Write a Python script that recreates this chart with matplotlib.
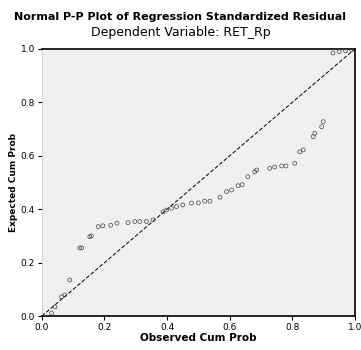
import matplotlib
matplotlib.use("Agg")
import matplotlib.pyplot as plt

# Observed vs expected cumulative probability
observed = [0.031, 0.042, 0.063, 0.073, 0.089, 0.121, 0.127, 0.153, 0.158, 0.180,
            0.195, 0.220, 0.240, 0.275, 0.297, 0.313, 0.334, 0.355, 0.387, 0.398,
            0.414, 0.430, 0.450, 0.478, 0.500, 0.520, 0.537, 0.569, 0.590, 0.606,
            0.627, 0.640, 0.658, 0.680, 0.686, 0.728, 0.744, 0.766, 0.780, 0.808,
            0.824, 0.835, 0.867, 0.872, 0.894, 0.899, 0.930, 0.950, 0.970, 0.990]
expected = [0.011, 0.034, 0.072, 0.079, 0.135, 0.255, 0.255, 0.297, 0.300, 0.335,
            0.338, 0.340, 0.348, 0.350, 0.354, 0.354, 0.354, 0.360, 0.390, 0.397,
            0.404, 0.410, 0.416, 0.423, 0.424, 0.430, 0.430, 0.445, 0.466, 0.472,
            0.488, 0.492, 0.522, 0.540, 0.547, 0.553, 0.558, 0.562, 0.562, 0.572,
            0.615, 0.622, 0.672, 0.684, 0.709, 0.728, 0.985, 0.990, 0.993, 0.997]

ticks = [0.0, 0.2, 0.4, 0.6, 0.8, 1.0]
tick_labels = ["0.0", "0.2", "0.4", "0.6", "0.8", "1.0"]

fig = plt.figure(figsize=(3.61, 3.5), dpi=100)
fig.patch.set_facecolor("white")
ax = fig.add_axes([0.116, 0.097, 0.867, 0.763])
ax.set_facecolor("#f0f0f0")

# reference diagonal
ax.plot([0, 1], [0, 1], color="black", linestyle=(0, (4, 2)), linewidth=0.7)
ax.scatter(observed, expected, s=8, facecolors="none", edgecolors="#444444",
           linewidths=0.5, zorder=3)

ax.set_xlim(0, 1)
ax.set_ylim(0, 1)
ax.set_xticks(ticks)
ax.set_xticklabels(tick_labels)
ax.set_yticks(ticks)
ax.set_yticklabels(tick_labels)
ax.tick_params(labelsize=6.5, length=3, width=0.8, direction="out", pad=2)

for side in ["top", "bottom", "right"]:
    ax.spines[side].set_linewidth(1.2)
ax.spines["left"].set_color("#cccccc")
ax.spines["left"].set_linewidth(0.6)

ax.set_xlabel("Observed Cum Prob", fontsize=7.5, fontweight="bold", labelpad=1)
ax.set_ylabel("Expected Cum Prob", fontsize=6.5, fontweight="bold", labelpad=2)

fig.text(0.5, 0.952, "Normal P-P Plot of Regression Standardized Residual",
         ha="center", va="center", fontsize=8, fontweight="bold")
fig.text(0.5, 0.908, "Dependent Variable: RET_Rp",
         ha="center", va="center", fontsize=9)

fig.savefig("out.png", dpi=100)
